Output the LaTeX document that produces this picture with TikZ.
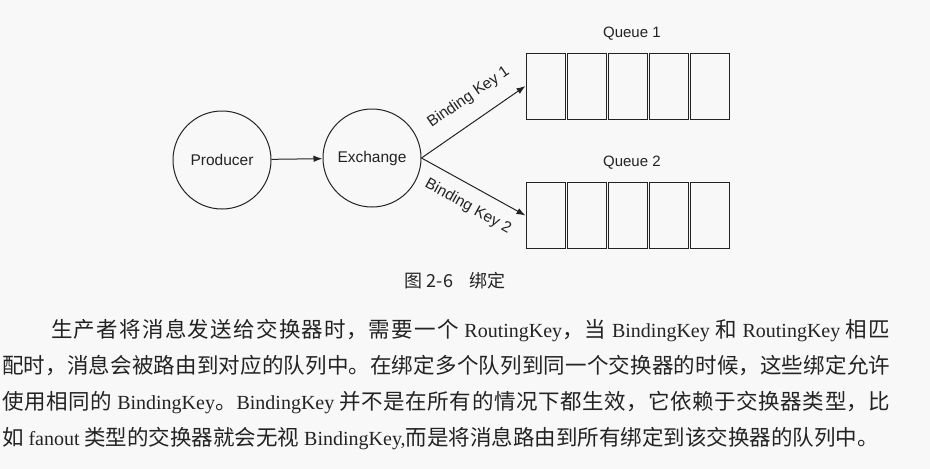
\documentclass[tikz,border=0pt]{standalone}
\usepackage{fontspec}
\usepackage{xcolor}
\usepackage{tikz}
\usetikzlibrary{
	arrows.meta,
	positioning
}
\setmainfont{Liberation Serif}
\newfontfamily\arialfont{Liberation Sans}
\newfontfamily\cjkfont{Noto Sans CJK SC}
\XeTeXlinebreaklocale "zh"
\XeTeXlinebreakskip = 0pt plus 4pt
\newcommand{\latinword}[1]{{\rmfamily\fontsize{20}{36}\selectfont #1}}
\definecolor{PaperGray}{RGB}{248,248,248}
\definecolor{InkBlack}{RGB}{35,35,35}

\begin{document}
\begin{tikzpicture}[x=1pt, y=-1pt,
		actor/.style={draw=InkBlack, line width=1pt, circle, minimum size=98pt, inner sep=0pt, text=InkBlack, font=\arialfont\fontsize{15.5}{18}\selectfont},
		slot/.style={draw=InkBlack, line width=1pt, minimum width=39pt, minimum height=66pt, inner sep=0pt},
		link/.style={draw=InkBlack, line width=1pt, -{Latex[length=9pt,width=6.5pt]}},
		keylabel/.style={sloped, text=InkBlack, font=\arialfont\fontsize{15.5}{18}\selectfont},
		qlabel/.style={text=InkBlack, font=\arialfont\fontsize{15}{18}\selectfont}
	]
	\fill[PaperGray] (0,0) rectangle (930,469);
	\useasboundingbox (0,0) rectangle (930,469);

	\node[actor] (producer) at (222,160) {Producer};
	\node[actor] (exchange) at (372,158) {Exchange};
	\draw[link] (producer) -- (exchange);

	% two queues of five slots
	\foreach \q/\y in {1/86,2/215.5} {
		\foreach \i in {1,...,5}
			\node[slot] (q\q-\i) at ({545.5+41.2*(\i-1)},\y) {};
		\node[qlabel, above=9pt of q\q-3, xshift=4pt] (qname\q) {Queue \q};
	}

	\draw[link] (exchange.east) -- (q1-1.west)
		node[keylabel, above=12pt, pos=0.58] (key1) {Binding Key 1};
	\draw[link] (exchange.east) -- (q2-1.west)
		node[keylabel, below=9pt, pos=0.54] (key2) {Binding Key 2};

	% caption and body text
	\node[text=InkBlack, font=\cjkfont\fontsize{18}{20}\selectfont] (caption) at (455,281) {图 2-6\hspace{0.9em}绑定};
	\node[anchor=base west, inner sep=0pt, text width=888pt, align=justify, text=InkBlack,
		font=\cjkfont\fontsize{21.5}{36}\selectfont] (body) at (2,337)
		{\parfillskip=0pt\hspace*{49pt}生产者将消息发送给交换器时，需要一个 \latinword{RoutingKey}，当 \latinword{BindingKey} 和 \latinword{RoutingKey} 相匹\linebreak
		配时，消息会被路由到对应的队列中。在绑定多个队列到同一个交换器的时候，这些绑定允许\linebreak
		使用相同的 \latinword{BindingKey}。\latinword{BindingKey} 并不是在所有的情况下都生效，它依赖于交换器类型，比\linebreak
		如 \latinword{fanout} 类型的交换器就会无视 \latinword{BindingKey,}而是将消息路由到所有绑定到该交换器的队列中。};
\end{tikzpicture}
\end{document}
